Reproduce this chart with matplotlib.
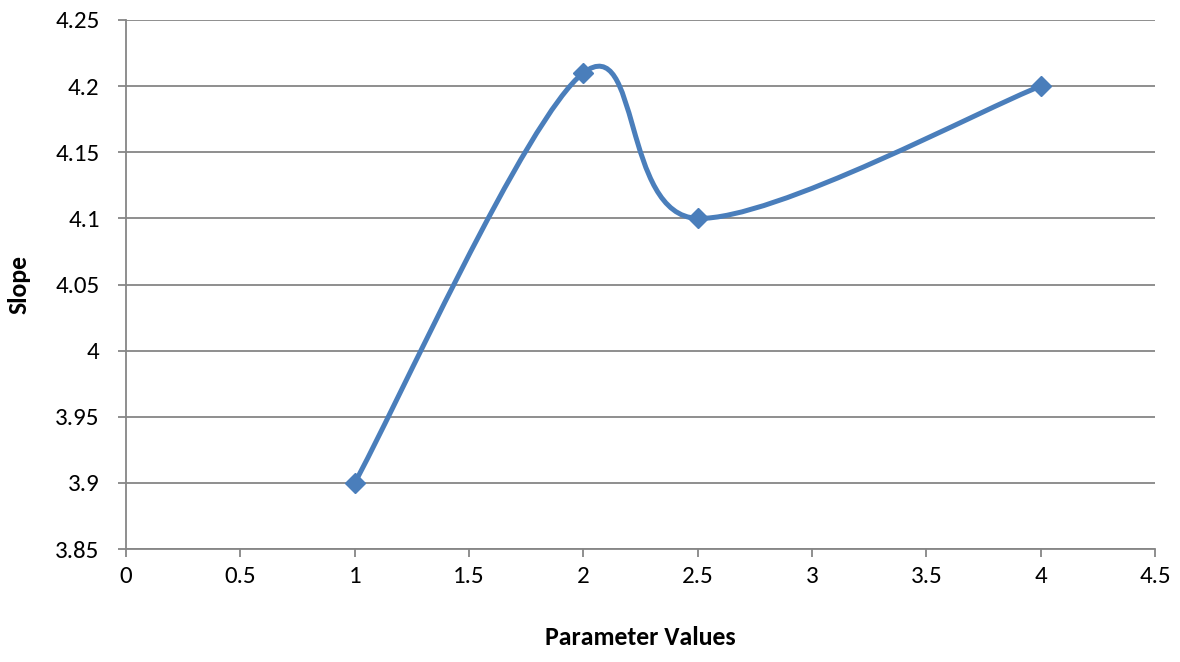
import matplotlib.pyplot as plt
from matplotlib.path import Path
from matplotlib.patches import PathPatch

plt.rcParams['font.family'] = ['Carlito', 'Lato', 'DejaVu Sans']

x_vals = [1, 2, 2.5, 4]
y_vals = [3.9, 4.21, 4.1, 4.2]
x_ticks = [0, 0.5, 1, 1.5, 2, 2.5, 3, 3.5, 4, 4.5]
y_ticks = [3.85, 3.9, 3.95, 4.0, 4.05, 4.1, 4.15, 4.2, 4.25]
y_labels = ['3.85', '3.9', '3.95', '4', '4.05', '4.1', '4.15', '4.2', '4.25']

line_color = '#4a7ebb'
grid_color = '#868686'

fig = plt.figure(figsize=(11.8, 6.62), dpi=100)
ax = fig.add_axes([126 / 1180, 1 - 549 / 662, (1155 - 126) / 1180, (549 - 20) / 662])

# Excel style smoothed line: Catmull-Rom segments as cubic Bezier curves
pts = list(zip(x_vals, y_vals))
verts = [pts[0]]
codes = [Path.MOVETO]
for i in range(len(pts) - 1):
    p0 = pts[i - 1] if i > 0 else pts[i]
    p1 = pts[i]
    p2 = pts[i + 1]
    p3 = pts[i + 2] if i + 2 < len(pts) else pts[i + 1]
    c1 = (p1[0] + (p2[0] - p0[0]) / 6, p1[1] + (p2[1] - p0[1]) / 6)
    c2 = (p2[0] - (p3[0] - p1[0]) / 6, p2[1] - (p3[1] - p1[1]) / 6)
    verts += [c1, c2, p2]
    codes += [Path.CURVE4] * 3
ax.add_patch(PathPatch(Path(verts, codes), facecolor='none', edgecolor=line_color,
                       linewidth=3.6, capstyle='round', joinstyle='round', zorder=3))
ax.plot(x_vals, y_vals, linestyle='none', marker='D', markersize=10,
        color=line_color, zorder=4)

ax.set_xlim(0, 4.5)
ax.set_ylim(3.85, 4.25)
ax.set_xticks(x_ticks)
ax.set_xticklabels([f'{t:g}' for t in x_ticks])
ax.set_yticks(y_ticks)
ax.set_yticklabels(y_labels)
ax.yaxis.grid(True, color=grid_color, linewidth=1.3)
ax.set_axisbelow(True)

for s in ['top', 'right']:
    ax.spines[s].set_visible(False)
for s in ['left', 'bottom']:
    ax.spines[s].set_color(grid_color)
    ax.spines[s].set_linewidth(1.3)
ax.tick_params(axis='both', colors=grid_color, length=6, width=1.3,
               labelcolor='black', labelsize=18)
ax.tick_params(axis='x', pad=6)
ax.tick_params(axis='y', pad=13)

ax.set_xlabel('Parameter Values', fontsize=18.5, fontweight='bold', labelpad=28)
ax.set_ylabel('Slope', fontsize=18.5, fontweight='bold', labelpad=18)

fig.savefig('out.png', dpi=100)
